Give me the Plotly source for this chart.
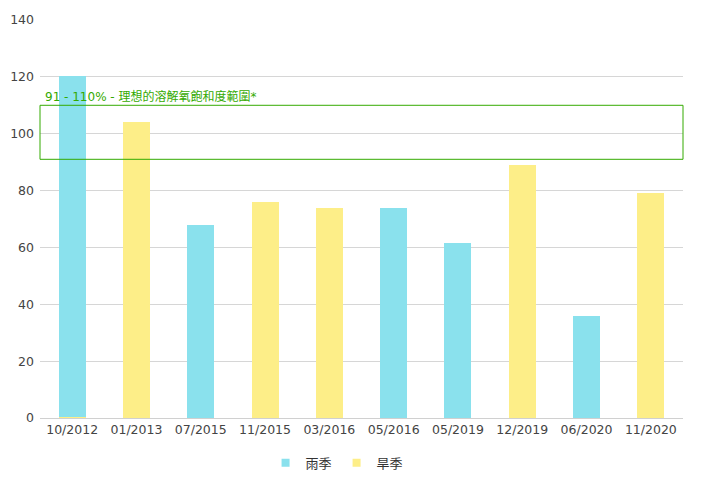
import plotly.graph_objects as go

categories = ["10/2012", "01/2013", "07/2015", "11/2015", "03/2016",
              "05/2016", "05/2019", "12/2019", "06/2020", "11/2020"]
wet_season = [120, None, 68, None, None, 74, 61.5, None, 36, None]
dry_season = [0.4, 104, None, 76, 74, None, None, 89, None, 79]
range_low = 91
range_high = 110
range_label = "91 - 110% - 理想的溶解氧飽和度範圍*"

WET_COLOR = "#8ae1ed"
DRY_COLOR = "#fdee88"
FONT = "DejaVu Sans, Noto Sans CJK TC, sans-serif"

fig = go.Figure()
fig.add_trace(go.Bar(x=categories, y=dry_season, name="旱季", showlegend=False,
                     marker=dict(color=DRY_COLOR, line=dict(width=0)), width=0.42))
fig.add_trace(go.Bar(x=categories, y=wet_season, name="雨季", showlegend=False,
                     marker=dict(color=WET_COLOR, line=dict(width=0)), width=0.42))
# legend entries with small square symbols
fig.add_trace(go.Scatter(x=[None], y=[None], mode="markers", name="雨季",
                         marker=dict(symbol="square", size=8, color=WET_COLOR)))
fig.add_trace(go.Scatter(x=[None], y=[None], mode="markers", name="旱季",
                         marker=dict(symbol="square", size=8, color=DRY_COLOR)))

fig.add_shape(type="rect", xref="paper", yref="y", x0=0, x1=1,
              y0=range_low, y1=range_high,
              line=dict(color="#33aa00", width=1), fillcolor="rgba(0,0,0,0)")
fig.add_annotation(xref="paper", yref="y", x=0.004, y=range_high, text=range_label,
                   showarrow=False, xanchor="left", yanchor="bottom", yshift=-1,
                   font=dict(color="#33aa00", size=12, family=FONT))

fig.update_layout(
    width=694, height=490,
    margin=dict(l=32, r=19, t=12, b=80, autoexpand=False),
    barmode="stack",
    plot_bgcolor="white", paper_bgcolor="white",
    font=dict(family=FONT, color="#444", size=12),
    showlegend=True,
    legend=dict(orientation="h", x=0.462, xanchor="center", y=-0.075, yanchor="top",
                traceorder="normal",
                font=dict(size=13, color="#333"), itemwidth=30),
    xaxis=dict(showgrid=False, showline=True, linecolor="#d0d0d0", linewidth=1,
               ticks="", automargin=False, tickfont=dict(size=12.5, color="#444")),
    yaxis=dict(range=[0, 140], dtick=20, showgrid=True, gridcolor="#d6d6d6",
               gridwidth=1, zeroline=False, showline=False, automargin=False,
               ticklabelstandoff=5,
               tickfont=dict(size=12.5, color="#444")),
)

fig.write_html("out.html")
